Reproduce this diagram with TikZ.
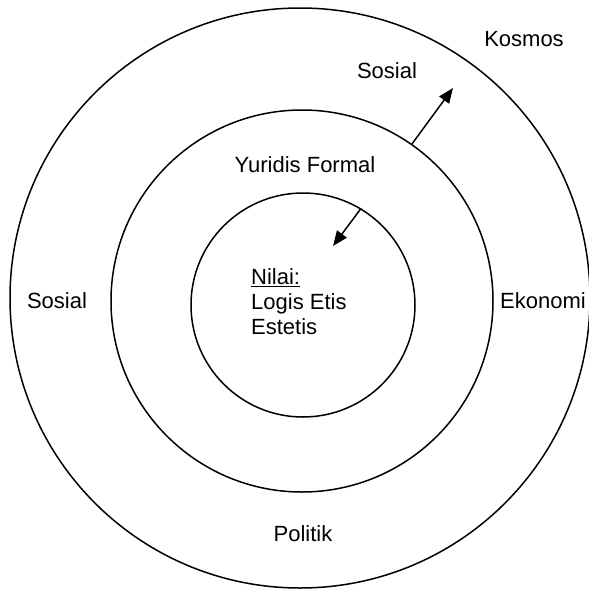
\documentclass[tikz,border=0pt]{standalone}
\usepackage{fontspec}
\setmainfont{Liberation Sans}
\usetikzlibrary{arrows.meta, positioning}

\begin{document}
\begin{tikzpicture}[
    x=1pt, y=-1pt,
    ring/.style={circle, draw, line width=1.5pt, inner sep=0pt},
    label/.style={font=\fontsize{22}{25}\selectfont, inner sep=0pt},
    arrow/.style={-{Triangle[length=15pt, width=12pt]}, line width=1.5pt},
]
    \useasboundingbox (0,0) rectangle (589,595);

    % rings
    \node[ring, minimum size=580pt] (outer) at (300,298) {};
    \node[ring, minimum size=382pt] (middle) at (302,301) {};
    \node[ring, minimum size=224pt] (inner) at (303,305) {};

    % labels
    \node[label] (kosmos) at (524,39) {Kosmos};
    \node[label] (sosialtop) at (387,71) {Sosial};
    \node[label] (yuridis) at (305,165) {Yuridis Formal};
    \node[label, align=left, anchor=west] (nilai) at (251,302) {\underline{Nilai:}\\Logis Etis\\Estetis};
    \node[label] (sosialleft) at (57,301) {Sosial};
    \node[label, anchor=west] (ekonomi) at (500,301) {Ekonomi};
    \node[label] (politik) at (303,534) {Politik};

    % arrows
    \coordinate (outtip) at (453,88);
    \coordinate (intip) at (333,246);
    \draw[arrow] (middle.55) -- (outtip);
    \draw[arrow] (inner.59) -- (intip);
\end{tikzpicture}
\end{document}
